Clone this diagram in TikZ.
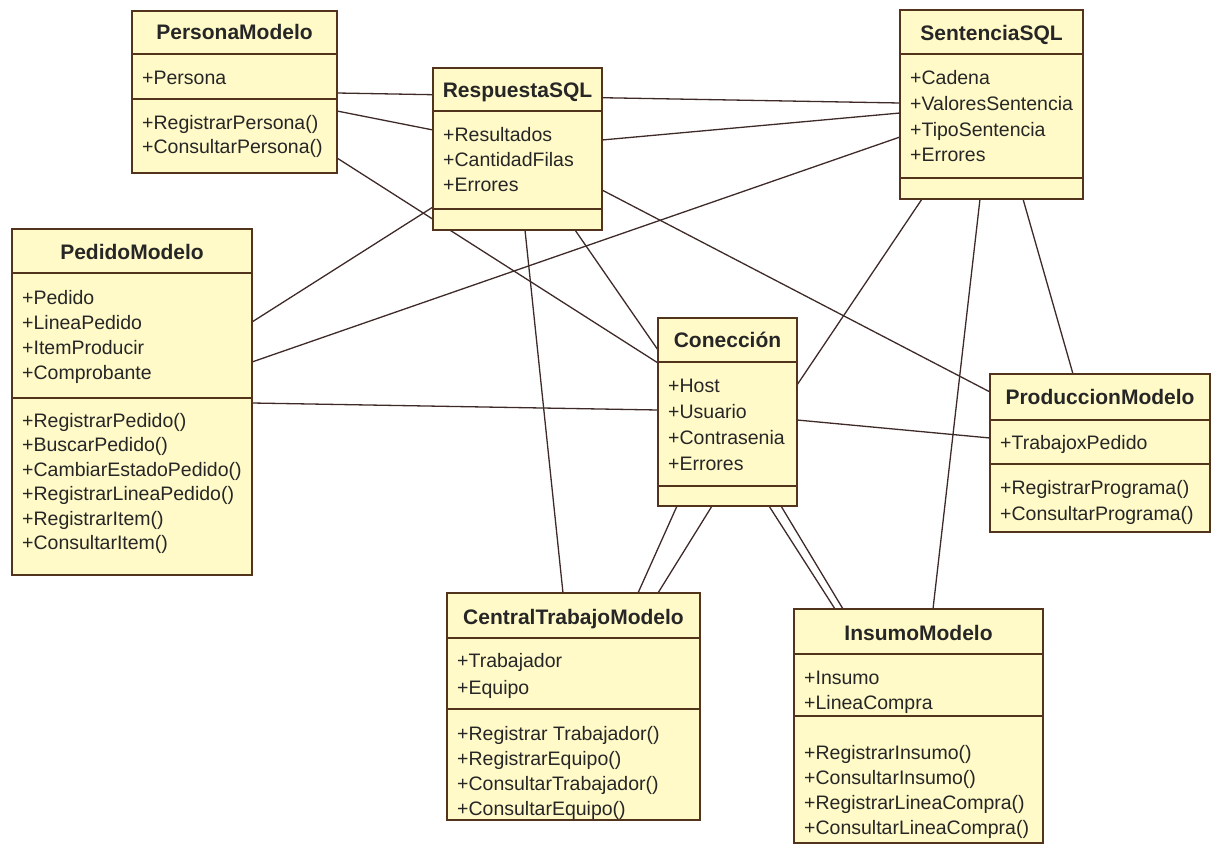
\documentclass[tikz,border=0pt]{standalone}
\usepackage{fontspec}
\setmainfont{Liberation Sans}
\usetikzlibrary{calc}

\definecolor{classfill}{RGB}{255,250,200}
\definecolor{classedge}{RGB}{82,52,28}
\definecolor{assoc}{RGB}{62,42,40}

\pgfdeclarelayer{links}
\pgfsetlayers{links,main}

\tikzset{
  classbox/.style={draw=classedge, fill=classfill, line width=1.8pt,
    outer sep=0pt, inner sep=0pt, anchor=north west},
  classline/.style={draw=classedge, line width=1.8pt},
  titletext/.style={anchor=base, inner sep=0pt,
    font=\fontsize{21}{24}\selectfont\bfseries, text=black!85},
  member/.style={anchor=base west, inner sep=0pt,
    font=\fontsize{19.5}{23}\selectfont, text=black!85},
  assocline/.style={draw=assoc, line width=1.3pt},
}

% class frame: name, left, top, width, height, title, title centre below top
\newcommand\umlclass[7]{%
  \node[classbox, minimum width=#4pt, minimum height=#5pt] (#1) at (#2,#3) {};
  \node[titletext] (#1-name) at ($(#1.north)+(0,{#7+7.5})$) {#6};
}
% horizontal separator inside a class, given its distance below the top
\newcommand\compartment[2]{%
  \draw[classline] ($(#1.north west)+(0,#2)$) -- ($(#1.north east)+(0,#2)$);
}
% member lines: prefix, class, first line centre below top, spacing, items
\newcommand\memberlist[5]{%
  \foreach \txt [count=\k] in {#5} {
    \node[member] (#1\k) at ($(#2.north west)+(10,{#3+(\k-1)*#4+7})$) {\txt};
  }
}

\begin{document}
\begin{tikzpicture}[x=1pt,y=-1pt]
\useasboundingbox (0,0) rectangle (1213,845);

% PersonaModelo
\umlclass{persona}{132}{11}{205}{162}{PersonaModelo}{21}
\compartment{persona}{43}
\compartment{persona}{88}
\memberlist{persona-a}{persona}{67}{24}{+Persona}
\memberlist{persona-o}{persona}{112}{24}{+RegistrarPersona(),+ConsultarPersona()}

% RespuestaSQL
\umlclass{respuesta}{433}{68}{169}{162}{RespuestaSQL}{22}
\compartment{respuesta}{43}
\compartment{respuesta}{141}
\memberlist{respuesta-a}{respuesta}{67}{25}{+Resultados,+CantidadFilas,+Errores}

% SentenciaSQL
\umlclass{sentencia}{900}{10}{183}{189}{SentenciaSQL}{23}
\compartment{sentencia}{44}
\compartment{sentencia}{168}
\memberlist{sentencia-a}{sentencia}{68}{25.6}{+Cadena,+ValoresSentencia,+TipoSentencia,+Errores}

% PedidoModelo
\umlclass{pedido}{12}{229}{240}{346}{PedidoModelo}{23}
\compartment{pedido}{44}
\compartment{pedido}{169}
\memberlist{pedido-a}{pedido}{68}{25}{+Pedido,+LineaPedido,+ItemProducir,+Comprobante}
\memberlist{pedido-o}{pedido}{191}{24.5}{+RegistrarPedido(),+BuscarPedido(),+CambiarEstadoPedido(),+RegistrarLineaPedido(),+RegistrarItem(),+ConsultarItem()}

% Conección
\umlclass{conexion}{658}{318}{139}{188}{Conección}{22}
\compartment{conexion}{44}
\compartment{conexion}{168}
\memberlist{conexion-a}{conexion}{67}{26}{+Host,+Usuario,+Contrasenia,+Errores}

% ProduccionModelo
\umlclass{produccion}{990}{374}{220}{158}{ProduccionModelo}{23}
\compartment{produccion}{46}
\compartment{produccion}{90}
\memberlist{produccion-a}{produccion}{68}{26}{+TrabajoxPedido}
\memberlist{produccion-o}{produccion}{113}{26}{+RegistrarPrograma(),+ConsultarPrograma()}

% CentralTrabajoModelo
\umlclass{central}{447}{593}{253}{227}{CentralTrabajoModelo}{24}
\compartment{central}{45}
\compartment{central}{116}
\memberlist{central-a}{central}{67}{27}{+Trabajador,+Equipo}
\memberlist{central-o}{central}{140}{25}{+Registrar Trabajador(),+RegistrarEquipo(),+ConsultarTrabajador(),+ConsultarEquipo()}

% InsumoModelo
\umlclass{insumo}{794}{609}{249}{234}{InsumoModelo}{24}
\compartment{insumo}{45}
\compartment{insumo}{107}
\memberlist{insumo-a}{insumo}{68}{25}{+Insumo,+LineaCompra}
\memberlist{insumo-o}{insumo}{143}{25}{+RegistrarInsumo(),+ConsultarInsumo(),+RegistrarLineaCompra(),+ConsultarLineaCompra()}

% associations, drawn beneath the classes
\begin{pgfonlayer}{links}
\draw[assocline] ($(persona.north east)+(0,82)$) -- ($(sentencia.north west)+(0,93)$);
\draw[assocline] ($(persona.north east)+(0,100)$) -- ($(respuesta.north west)+(0,62)$);
\draw[assocline] ($(persona.north east)+(0,147)$) -- ($(conexion.north west)+(0,45)$);
\draw[assocline] ($(respuesta.north east)+(0,72)$) -- ($(sentencia.north west)+(0,103)$);
\draw[assocline] ($(pedido.north east)+(0,93)$) -- ($(respuesta.north west)+(0,139)$);
\draw[assocline] ($(pedido.north east)+(0,133)$) -- ($(sentencia.north west)+(0,127)$);
\draw[assocline] ($(pedido.north east)+(0,174)$) -- ($(conexion.north west)+(0,92)$);
\draw[assocline] ($(respuesta.south west)+(92,0)$) -- ($(central.north west)+(116,0)$);
\draw[assocline] ($(respuesta.south west)+(142,0)$) -- ($(conexion.north west)+(0,32)$);
\draw[assocline] ($(respuesta.north east)+(0,122)$) -- ($(produccion.north west)+(0,18)$);
\draw[assocline] ($(sentencia.south west)+(22,0)$) -- ($(conexion.north east)+(0,67)$);
\draw[assocline] ($(sentencia.south west)+(80,0)$) -- ($(insumo.north west)+(139,0)$);
\draw[assocline] ($(sentencia.south west)+(123,0)$) -- ($(produccion.north west)+(83,0)$);
\draw[assocline] ($(conexion.north east)+(0,102)$) -- ($(produccion.north west)+(0,64)$);
\draw[assocline] ($(conexion.south west)+(19,0)$) -- ($(central.north west)+(191,0)$);
\draw[assocline] ($(conexion.south west)+(54,0)$) -- ($(central.north west)+(211,0)$);
\draw[assocline] ($(conexion.south west)+(111,0)$) -- ($(insumo.north west)+(41,0)$);
\draw[assocline] ($(conexion.south west)+(123,0)$) -- ($(insumo.north west)+(49,0)$);
\end{pgfonlayer}
\end{tikzpicture}
\end{document}
